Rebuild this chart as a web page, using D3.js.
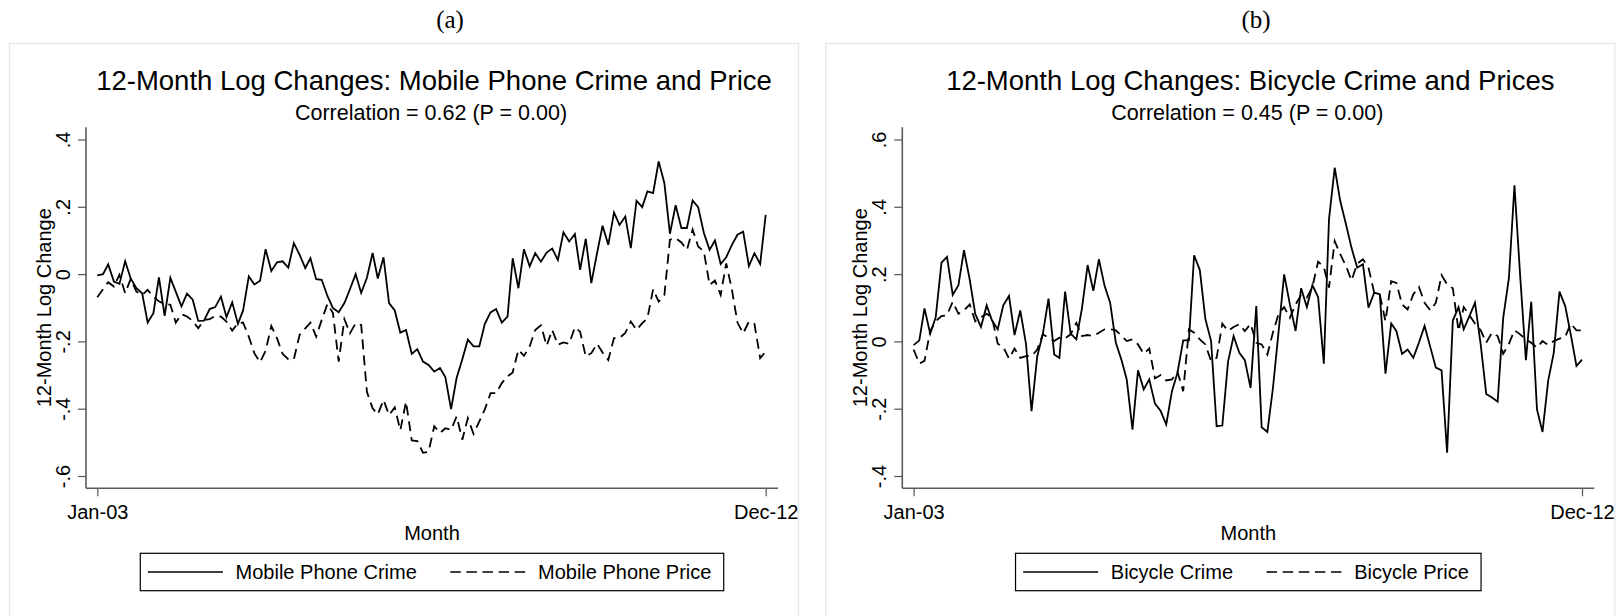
<!DOCTYPE html>
<html>
<head>
<meta charset="utf-8">
<script src="https://cdn.jsdelivr.net/npm/d3@7"></script>
<style>
  html, body { margin: 0; padding: 0; background: #fff; }
  svg { display: block; font-family: "Liberation Sans", Arial, sans-serif; }
</style>
</head>
<body>
<svg id="chart" width="1619" height="616"></svg>
<script>
// month axis: Jan-03 .. Dec-12 (120 months)
const firstMonth = new Date(2003, 0, 1);
const lastMonth = new Date(2012, 11, 1);
const months = d3.timeMonth.range(firstMonth, d3.timeMonth.offset(lastMonth, 1));
const xTickLabels = ['Jan-03', 'Dec-12'];

// (a) mobile phones
const phoneCrime = [
  -0.004, 0.000, 0.029, -0.022, -0.029, 0.038, -0.013, -0.042, -0.057, -0.144,
  -0.116, -0.010, -0.124, -0.011, -0.052, -0.096, -0.058, -0.076, -0.139, -0.138,
  -0.104, -0.098, -0.067, -0.128, -0.084, -0.148, -0.108, -0.007, -0.031, -0.020,
  0.074, 0.009, 0.035, 0.038, 0.019, 0.092, 0.058, 0.018, 0.047, -0.015,
  -0.017, -0.065, -0.101, -0.113, -0.086, -0.045, 0.000, -0.056, -0.011, 0.063,
  -0.013, 0.050, -0.086, -0.108, -0.174, -0.166, -0.237, -0.223, -0.260, -0.270,
  -0.290, -0.279, -0.306, -0.401, -0.309, -0.253, -0.195, -0.215, -0.215, -0.148,
  -0.114, -0.104, -0.144, -0.126, 0.047, -0.042, 0.074, 0.023, 0.062, 0.037,
  0.064, 0.076, 0.042, 0.124, 0.097, 0.119, 0.013, 0.105, -0.027, 0.062,
  0.144, 0.087, 0.183, 0.146, 0.171, 0.077, 0.218, 0.199, 0.246, 0.241,
  0.335, 0.270, 0.120, 0.205, 0.137, 0.137, 0.219, 0.199, 0.122, 0.072,
  0.100, 0.030, 0.050, 0.087, 0.117, 0.126, 0.024, 0.062, 0.030, 0.176
];
const phonePrice = [
  -0.069, -0.045, -0.024, -0.037, -0.002, -0.057, -0.014, -0.052, -0.062, -0.047,
  -0.067, -0.081, -0.089, -0.091, -0.144, -0.119, -0.126, -0.139, -0.161, -0.136,
  -0.134, -0.124, -0.126, -0.141, -0.168, -0.146, -0.144, -0.186, -0.235, -0.262,
  -0.228, -0.154, -0.191, -0.237, -0.253, -0.253, -0.181, -0.161, -0.144, -0.186,
  -0.136, -0.089, -0.116, -0.260, -0.134, -0.176, -0.146, -0.151, -0.350, -0.399,
  -0.417, -0.374, -0.419, -0.396, -0.464, -0.379, -0.494, -0.496, -0.531, -0.528,
  -0.452, -0.472, -0.458, -0.463, -0.423, -0.492, -0.428, -0.475, -0.438, -0.402,
  -0.354, -0.354, -0.324, -0.304, -0.292, -0.225, -0.243, -0.215, -0.166, -0.152,
  -0.213, -0.166, -0.210, -0.203, -0.207, -0.158, -0.171, -0.245, -0.235, -0.207,
  -0.233, -0.255, -0.190, -0.190, -0.175, -0.141, -0.166, -0.146, -0.131, -0.045,
  -0.082, -0.062, 0.102, 0.107, 0.094, 0.072, 0.132, 0.082, 0.067, -0.032,
  -0.019, -0.062, 0.032, -0.047, -0.144, -0.176, -0.141, -0.148, -0.250, -0.230
];

// (b) bicycles
const bikeCrime = [
  -0.011, 0.003, 0.098, 0.023, 0.072, 0.234, 0.251, 0.138, 0.167, 0.271,
  0.184, 0.082, 0.043, 0.107, 0.062, 0.036, 0.107, 0.135, 0.019, 0.092,
  -0.007, -0.207, -0.044, 0.021, 0.127, -0.039, -0.049, 0.148, 0.023, 0.006,
  0.097, 0.227, 0.150, 0.244, 0.165, 0.115, -0.004, -0.056, -0.113, -0.262,
  -0.086, -0.143, -0.113, -0.185, -0.207, -0.247, -0.148, -0.093, 0.003, 0.003,
  0.256, 0.212, 0.067, 0.001, -0.252, -0.250, -0.060, 0.016, -0.034, -0.056,
  -0.138, 0.105, -0.255, -0.269, -0.140, 0.030, 0.199, 0.110, 0.031, 0.158,
  0.102, 0.167, 0.132, -0.066, 0.363, 0.516, 0.417, 0.348, 0.278, 0.219,
  0.229, 0.100, 0.145, 0.140, -0.096, 0.053, 0.031, -0.037, -0.024, -0.049,
  -0.004, 0.046, -0.017, -0.078, -0.086, -0.331, 0.062, 0.102, 0.036, 0.075,
  0.115, -0.009, -0.156, -0.167, -0.179, 0.070, 0.189, 0.464, 0.194, -0.056,
  0.118, -0.202, -0.269, -0.116, -0.034, 0.148, 0.105, 0.021, -0.073, -0.054
];
const bikePrice = [
  -0.024, -0.066, -0.058, 0.031, 0.060, 0.075, 0.078, 0.118, 0.082, 0.092,
  0.110, 0.060, 0.072, 0.082, 0.070, -0.007, -0.017, -0.051, -0.021, -0.049,
  -0.044, -0.044, -0.024, 0.021, 0.011, 0.001, 0.011, 0.009, 0.021, 0.055,
  0.016, 0.019, 0.016, 0.026, 0.036, 0.036, 0.033, 0.016, 0.001, 0.006,
  -0.009, -0.037, -0.021, -0.110, -0.100, -0.116, -0.113, -0.090, -0.148, 0.036,
  0.026, 0.006, -0.009, -0.058, -0.049, 0.053, 0.031, 0.043, 0.051, 0.031,
  0.052, -0.004, -0.009, -0.039, 0.026, 0.082, 0.102, 0.070, 0.110, 0.138,
  0.130, 0.162, 0.237, 0.221, 0.160, 0.298, 0.259, 0.224, 0.181, 0.231,
  0.244, 0.219, 0.145, 0.140, 0.060, 0.179, 0.174, 0.110, 0.095, 0.140,
  0.162, 0.115, 0.092, 0.115, 0.197, 0.169, 0.158, 0.031, 0.102, 0.078,
  0.053, 0.033, -0.004, 0.026, 0.016, -0.037, -0.007, 0.033, 0.021, 0.006,
  -0.004, -0.019, 0.001, -0.011, 0.001, 0.008, 0.013, 0.053, 0.033, 0.033
];

const panels = [
  {
    letter: '(a)', letterX: 450, dx: 0,
    title: '12-Month Log Changes: Mobile Phone Crime and Price',
    subtitle: 'Correlation = 0.62 (P = 0.00)',
    yTicks: [-0.6, -0.4, -0.2, 0, 0.2, 0.4],
    yDomain: [-0.6, 0.4],
    series: [
      { name: 'Mobile Phone Crime', values: phoneCrime, dash: null },
      { name: 'Mobile Phone Price', values: phonePrice, dash: '10,6' }
    ]
  },
  {
    letter: '(b)', letterX: 1256, dx: 816.3,
    title: '12-Month Log Changes: Bicycle Crime and Prices',
    subtitle: 'Correlation = 0.45 (P = 0.00)',
    yTicks: [-0.4, -0.2, 0, 0.2, 0.4, 0.6],
    yDomain: [-0.4, 0.6],
    series: [
      { name: 'Bicycle Crime', values: bikeCrime, dash: null },
      { name: 'Bicycle Price', values: bikePrice, dash: '10,6' }
    ]
  }
];

// Stata style tick label: .4, -.2, 0
function stataNum(v) {
  if (Math.abs(v) < 1e-9) return '0';
  const s = d3.format('.1f')(Math.abs(v)).replace(/^0/, '');
  return (v < 0 ? '-' : '') + s;
}

const svg = d3.select('#chart');

// layout inside a panel (panel a coordinates)
const plotLeft = 86, plotRight = 778, plotTop = 127.3, plotBottom = 488.3;
const xFirst = 97.3, xLast = 765.7;
const yTopTick = 139.5, yBottomTick = 476;
const plotMid = (plotLeft + plotRight) / 2;

panels.forEach(p => {
  // letter above panel (serif, outside the graph box)
  svg.append('text')
    .attr('x', p.letterX)
    .attr('y', 28)
    .attr('text-anchor', 'middle')
    .style('font-family', '"Liberation Serif", "Times New Roman", serif')
    .style('font-size', '25px')
    .text(p.letter);

  const g = svg.append('g').attr('transform', `translate(${p.dx},0)`);

  // light graph-region border
  g.append('rect')
    .attr('x', 9.5).attr('y', 43.5)
    .attr('width', 789).attr('height', 600)
    .attr('fill', 'none')
    .attr('stroke', '#e2eaea')
    .attr('stroke-width', 1.5);

  g.append('text')
    .attr('x', plotMid + 2).attr('y', 89.5)
    .attr('text-anchor', 'middle')
    .style('font-size', '27.5px')
    .text(p.title);

  g.append('text')
    .attr('x', plotMid - 1).attr('y', 119.5)
    .attr('text-anchor', 'middle')
    .style('font-size', '21.5px')
    .text(p.subtitle);

  const x = d3.scaleTime()
    .domain([firstMonth, lastMonth])
    .range([xFirst, xLast]);
  const y = d3.scaleLinear()
    .domain(p.yDomain)
    .range([yBottomTick, yTopTick]);

  // y axis
  const yAxis = g.append('g')
    .attr('transform', `translate(${plotLeft},0)`)
    .call(d3.axisLeft(y).tickValues(p.yTicks).tickSize(8).tickFormat(stataNum));
  yAxis.select('.domain').remove();
  yAxis.selectAll('.tick line').attr('stroke', '#555').attr('stroke-width', 1.2);
  yAxis.selectAll('.tick text')
    .attr('transform', 'rotate(-90)')
    .attr('x', 0).attr('y', -16).attr('dy', 0)
    .attr('text-anchor', 'middle')
    .attr('fill', '#000')
    .style('font-size', '20px');

  // x axis
  const xAxis = g.append('g')
    .attr('transform', `translate(0,${plotBottom})`)
    .call(d3.axisBottom(x)
      .tickValues([firstMonth, lastMonth])
      .tickSize(8)
      .tickFormat((d, i) => xTickLabels[i]));
  xAxis.select('.domain').remove();
  xAxis.selectAll('.tick line').attr('stroke', '#555').attr('stroke-width', 1.2);
  xAxis.selectAll('.tick text')
    .attr('y', 31).attr('dy', 0)
    .attr('fill', '#000')
    .style('font-size', '20px');

  // axis lines
  g.append('line')
    .attr('x1', plotLeft).attr('x2', plotLeft)
    .attr('y1', plotTop).attr('y2', plotBottom)
    .attr('stroke', '#5a5a5a').attr('stroke-width', 1.6);
  g.append('line')
    .attr('x1', plotLeft).attr('x2', plotRight)
    .attr('y1', plotBottom).attr('y2', plotBottom)
    .attr('stroke', '#5a5a5a').attr('stroke-width', 1.6);

  // axis titles
  g.append('text')
    .attr('transform', `translate(51,${(yTopTick + yBottomTick) / 2}) rotate(-90)`)
    .attr('text-anchor', 'middle')
    .style('font-size', '20px')
    .text('12-Month Log Change');
  g.append('text')
    .attr('x', plotMid).attr('y', 540)
    .attr('text-anchor', 'middle')
    .style('font-size', '20px')
    .text('Month');

  // series
  const line = d3.line()
    .x((d, i) => x(months[i]))
    .y(d => y(d));
  p.series.forEach(s => {
    g.append('path')
      .datum(s.values)
      .attr('d', line)
      .attr('fill', 'none')
      .attr('stroke', '#000')
      .attr('stroke-width', 1.8)
      .attr('stroke-linejoin', 'miter')
      .attr('stroke-dasharray', s.dash);
  });

  // legend: box centred under plot
  const leg = g.append('g');
  const box = leg.append('rect')
    .attr('fill', '#fff').attr('stroke', '#000').attr('stroke-width', 1.2);
  let cx = 0;
  const keyLen = 75, padL = 7.6, gapKey = 12.7, gapItem = 33.5, padR = 12.3;
  cx += padL;
  p.series.forEach((s, i) => {
    if (i > 0) cx += gapItem;
    leg.append('line')
      .attr('x1', cx).attr('x2', cx + keyLen)
      .attr('y1', 18.7).attr('y2', 18.7)
      .attr('stroke', '#000').attr('stroke-width', 1.6)
      .attr('stroke-dasharray', s.dash ? '10.5,5.6' : null);
    cx += keyLen + gapKey;
    const t = leg.append('text')
      .attr('x', cx).attr('y', 26)
      .style('font-size', '20px')
      .text(s.name);
    cx += t.node().getComputedTextLength();
  });
  cx += padR;
  box.attr('x', 0).attr('y', 0).attr('width', cx).attr('height', 37.4);
  leg.attr('transform', `translate(${plotMid - cx / 2},553.3)`);
});
</script>
</body>
</html>
